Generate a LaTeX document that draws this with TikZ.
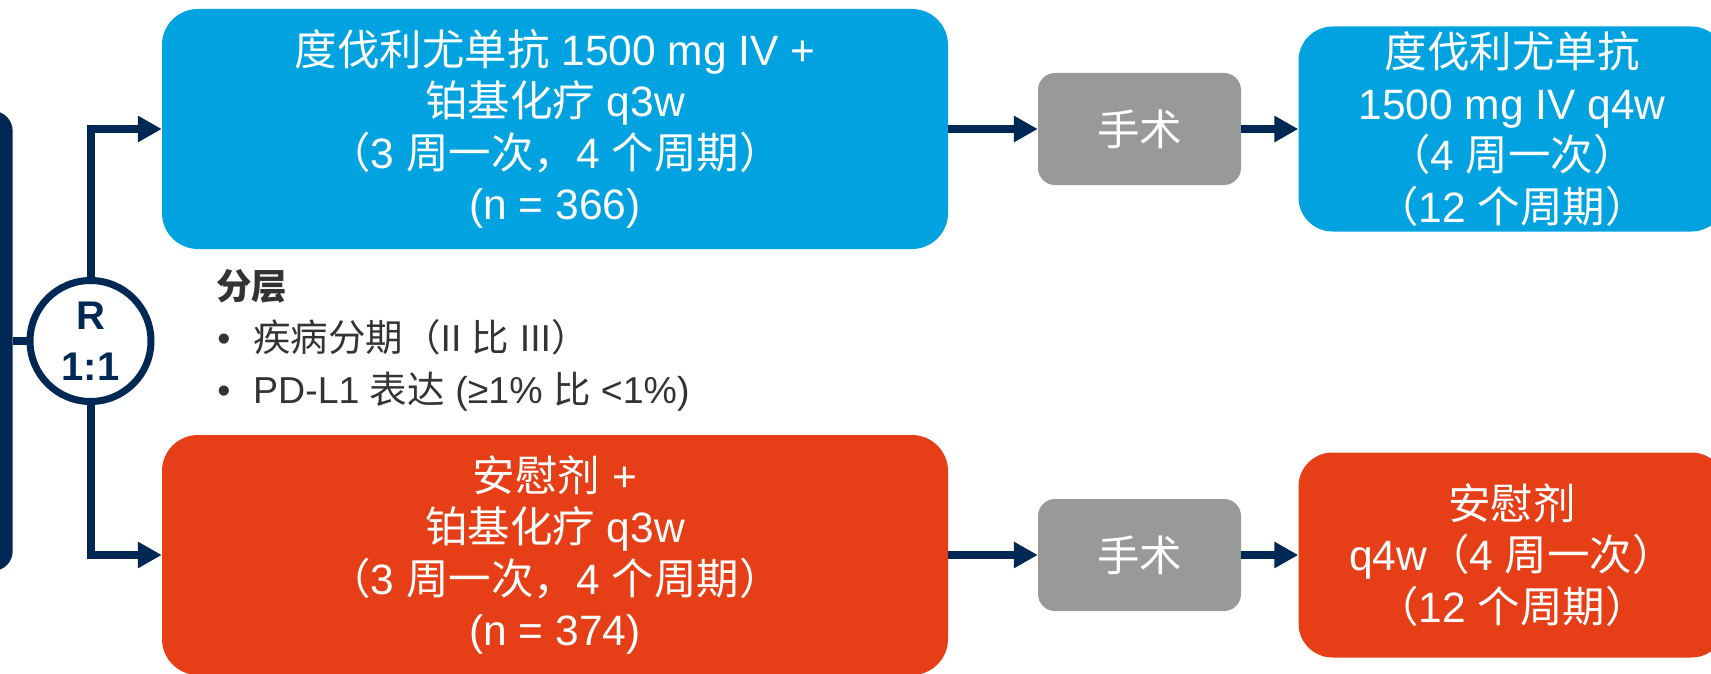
\documentclass[tikz,border=0pt]{standalone}
\usepackage{fontspec}
\setmainfont{Liberation Sans}
\newfontfamily\cjk{Noto Sans CJK SC}
\usetikzlibrary{arrows.meta}
\definecolor{navy}{RGB}{0,40,85}
\definecolor{cblue}{RGB}{0,163,224}
\definecolor{cred}{RGB}{230,62,22}
\definecolor{cgray}{RGB}{153,153,153}
\definecolor{ctext}{RGB}{51,51,51}
\newcommand{\zh}[1]{{\cjk #1}}
\begin{document}
\begin{tikzpicture}[x=1pt,y=-1pt,
  boxbase/.style={inner sep=0pt, text=white, align=center, font=\fontsize{42.5}{51.5}\selectfont},
  bigbox/.style={boxbase, rounded corners=36pt, minimum width=786pt, minimum height=240pt},
  sidebox/.style={boxbase, rounded corners=34pt, minimum width=427pt, minimum height=205pt},
  surgbox/.style={boxbase, fill=cgray, rounded corners=17pt, minimum width=203pt, minimum height=112pt},
  conn/.style={draw=navy, line width=8pt},
  arr/.style={conn, -{Triangle[length=24pt,width=25pt]}},
  strat/.style={text=ctext, inner sep=0pt, anchor=base west, font=\fontsize{37.5}{40}\selectfont}
]
\useasboundingbox (0,0) rectangle (1711,674);
\clip (0,0) rectangle (1711,674);

\node[fill=navy, rounded corners=20pt, minimum width=60pt, minimum height=460pt, inner sep=0pt] (pts) at (-17.3,341) {};
\node[circle, draw=navy, line width=7pt, minimum size=121pt, inner sep=0pt, text=navy, align=center,
      font=\fontsize{40}{51}\selectfont\bfseries] (rand) at (90.5,341) {R\\1:1};

\node[bigbox, fill=cblue] (exp1) at (555,129)
  {\zh{度伐利尤单抗} 1500 mg IV +\\\zh{铂基化疗} q3w\\\zh{（}3 \zh{周一次，}4 \zh{个周期）}\\(n = 366)};
\node[bigbox, fill=cred] (ctl1) at (555,555)
  {\zh{安慰剂} +\\\zh{铂基化疗} q3w\\\zh{（}3 \zh{周一次，}4 \zh{个周期）}\\(n = 374)};
\node[surgbox] (surg1) at (1139.5,129) {\zh{手术}};
\node[surgbox] (surg2) at (1139.5,555) {\zh{手术}};
\node[sidebox, fill=cblue] (exp2) at (1512,129)
  {\zh{度伐利尤单抗}\\1500 mg IV q4w\\\zh{（}4 \zh{周一次）}\\\zh{（}12 \zh{个周期）}};
\node[sidebox, fill=cred] (ctl2) at (1512,555)
  {\zh{安慰剂}\\q4w\zh{（}4 \zh{周一次）}\\\zh{（}12 \zh{个周期）}};

\draw[conn] (pts.east) -- (rand.west);
\draw[arr] (rand.north) |- (exp1.west);
\draw[arr] (rand.south) |- (ctl1.west);
\draw[arr] (exp1.east) -- (surg1.west);
\draw[arr] (surg1.east) -- (exp2.west);
\draw[arr] (ctl1.east) -- (surg2.west);
\draw[arr] (surg2.east) -- (ctl2.west);

\node[strat, font=\fontsize{35.5}{40}\selectfont\bfseries] (strath) at (216,299) {\zh{分层}};
\node[strat, anchor=base] (b1) at (224,351) {•};
\node[strat] (s1) at (253,351) {\zh{疾病分期（}II \zh{比} III\zh{）}};
\node[strat, anchor=base] (b2) at (224,403) {•};
\node[strat] (s2) at (253,403) {PD-L1 \zh{表达} (≥1\% \zh{比} <1\%)};
\end{tikzpicture}
\end{document}
